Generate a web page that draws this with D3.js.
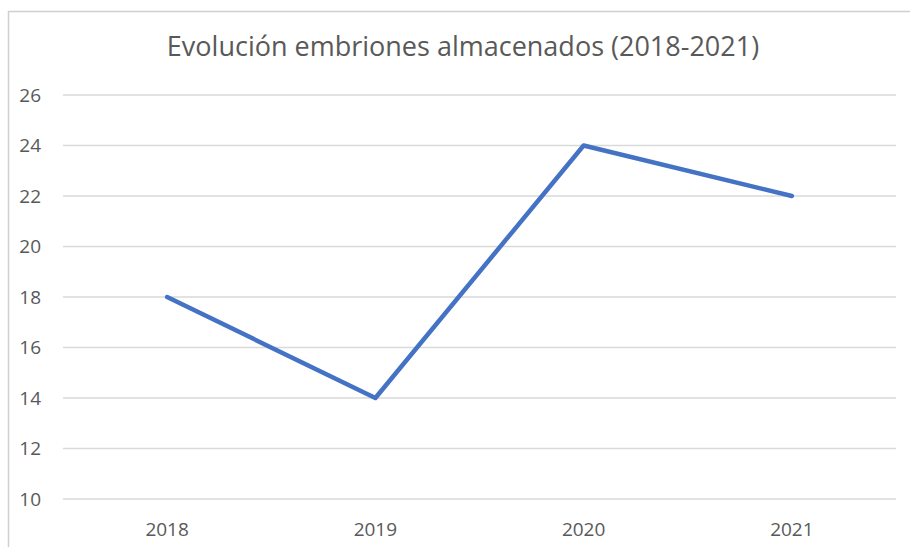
<!DOCTYPE html>
<html>
<head>
<meta charset="utf-8">
<script src="https://cdn.jsdelivr.net/npm/d3@7"></script>
<style>
	body { margin: 0; background: #fff; }
	text { font-family: 'Open Sans', sans-serif; fill: #595959; }
</style>
</head>
<body>
<div id="chart"></div>
<script>
var years = ['2018', '2019', '2020', '2021'];
var embriones = [18, 14, 24, 22];
var yTicks = [10, 12, 14, 16, 18, 20, 22, 24, 26];
var title = 'Evolución embriones almacenados (2018-2021)';

var width = 910, height = 547;
var plot = {left: 63, right: 896, top: 95, bottom: 499};

var svg = d3.select('#chart').append('svg')
	.attr('width', width)
	.attr('height', height);

// chart frame
svg.append('path')
	.attr('d', 'M8.5,' + height + ' L8.5,11.5 L' + width + ',11.5')
	.attr('fill', 'none')
	.attr('stroke', '#d0d0d0')
	.attr('stroke-width', 1.5);

var x = d3.scalePoint().domain(years).range([plot.left, plot.right]).padding(0.5);
var y = d3.scaleLinear().domain([10, 26]).range([plot.bottom, plot.top]);

// grid
svg.append('g').selectAll('line')
	.data(yTicks)
	.enter().append('line')
	.attr('x1', plot.left)
	.attr('x2', plot.right)
	.attr('y1', function(d) { return y(d); })
	.attr('y2', function(d) { return y(d); })
	.attr('stroke', '#d9d9d9')
	.attr('stroke-width', 1.5);

// y labels
svg.append('g').selectAll('text')
	.data(yTicks)
	.enter().append('text')
	.attr('x', 41)
	.attr('y', function(d) { return y(d); })
	.attr('dy', '0.35em')
	.attr('text-anchor', 'end')
	.style('font-size', '19px')
	.text(function(d) { return d; });

// x labels
svg.append('g').selectAll('text')
	.data(years)
	.enter().append('text')
	.attr('x', function(d) { return x(d); })
	.attr('y', 536)
	.attr('text-anchor', 'middle')
	.style('font-size', '19px')
	.text(function(d) { return d; });

// line
var line = d3.line()
	.x(function(d, i) { return x(years[i]); })
	.y(function(d) { return y(d); });

svg.append('path')
	.datum(embriones)
	.attr('d', line)
	.attr('fill', 'none')
	.attr('stroke', '#4472c4')
	.attr('stroke-width', 4.5)
	.attr('stroke-linecap', 'round')
	.attr('stroke-linejoin', 'round');

// title
svg.append('text')
	.attr('x', 463)
	.attr('y', 56)
	.attr('text-anchor', 'middle')
	.style('font-size', '27px')
	.text(title);
</script>
</body>
</html>
